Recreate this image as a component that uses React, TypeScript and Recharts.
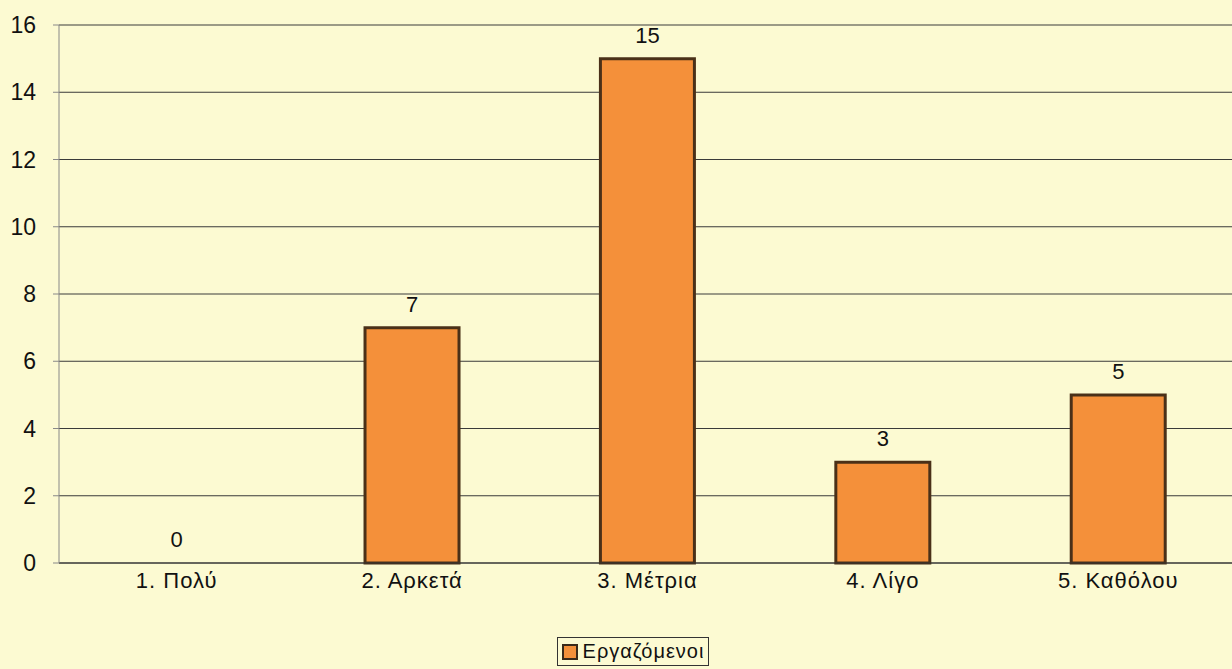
import { ComposedChart, Bar, Line, XAxis, YAxis, CartesianGrid, Legend, LabelList } from "recharts";

const categories = ["1. Πολύ", "2. Αρκετά", "3. Μέτρια", "4. Λίγο", "5. Καθόλου"];
const employed = [0, 7, 15, 3, 5];
const yTicks = [0, 2, 4, 6, 8, 10, 12, 14, 16];

const data = categories.map((name, i) => ({ name, value: employed[i] }));

const font = "'Liberation Sans', Arial, sans-serif";

function LegendBox() {
  return (
    <div style={{ display: "flex", justifyContent: "center", marginLeft: 30 }}>
      <div
        style={{
          display: "flex",
          alignItems: "center",
          border: "1.5px solid #333",
          padding: "2px 4px",
          fontFamily: font,
          fontSize: 20,
          letterSpacing: 1,
          color: "#111",
          background: "#fcfad2",
        }}
      >
        <span
          style={{
            width: 12,
            height: 12,
            background: "#f4903a",
            border: "2px solid #3a2a1a",
            marginRight: 5,
            display: "inline-block",
          }}
        />
        Εργαζόμενοι
      </div>
    </div>
  );
}

export default function App() {
  return (
    <div style={{ position: "absolute", left: 0, top: 0, width: 1232, height: 669, background: "#fcfad2", overflow: "hidden" }}>
      <ComposedChart
        width={1236}
        height={669}
        data={data}
        margin={{ top: 25, right: 0, left: 0, bottom: 0 }}
        barCategoryGap="30%"
      >
        <CartesianGrid vertical={false} stroke="#3a3a3a" strokeWidth={1} />
        <XAxis
          dataKey="name"
          height={74}
          tickLine={false}
          axisLine={{ stroke: "#333" }}
          tick={{ fill: "#111", fontSize: 22, fontFamily: font, letterSpacing: 1 }}
          tickMargin={3}
        />
        <YAxis
          domain={[0, 16]}
          ticks={yTicks}
          width={59}
          tickSize={6}
          axisLine={{ stroke: "#888" }}
          tickLine={{ stroke: "#888" }}
          tick={{ fill: "#111", fontSize: 23, fontFamily: font }}
          tickMargin={17}
        />
        <Legend verticalAlign="bottom" height={32} content={() => <LegendBox />} />
        <Bar dataKey="value" fill="#f4903a" stroke="#4a3018" strokeWidth={3} isAnimationActive={false} />
        <Line
          dataKey="value"
          stroke="none"
          dot={false}
          activeDot={false}
          legendType="none"
          isAnimationActive={false}
        >
          <LabelList dataKey="value" position="top" offset={16} fill="#111" fontSize={22} fontFamily={font} />
        </Line>
      </ComposedChart>
    </div>
  );
}
